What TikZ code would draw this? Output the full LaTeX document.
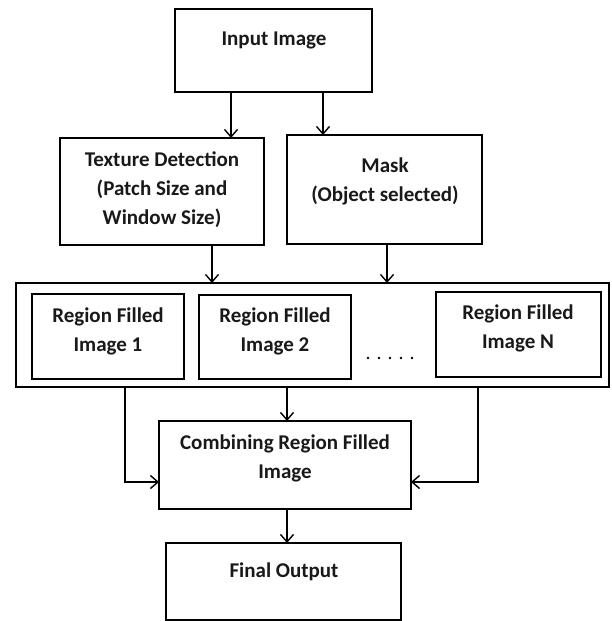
\documentclass[tikz,border=0pt]{standalone}
\usepackage{fontspec}
\setmainfont{Carlito}
\usetikzlibrary{arrows.meta}
\begin{document}
\begin{tikzpicture}[x=1pt,y=-1pt,
  box/.style={draw=black,line width=1.8pt,rectangle,anchor=north west,inner sep=0pt,outer sep=0pt},
  txt/.style={font=\fontsize{21}{29}\selectfont\bfseries,align=center,inner sep=0pt,text=black!90},
  arr/.style={draw=black,line width=1.4pt,-{Straight Barb[length=7.5pt,width=13pt,line width=1.4pt]}}]
\useasboundingbox (0,0) rectangle (612,621);
% boxes
\node[box,minimum width=197pt,minimum height=83pt] (in) at (175,9) {};
\node[box,minimum width=204pt,minimum height=107pt] (tex) at (60,138) {};
\node[box,minimum width=195pt,minimum height=109pt] (mask) at (287,135) {};
\node[box,minimum width=593pt,minimum height=104pt] (big) at (16,283) {};
\node[box,minimum width=152pt,minimum height=85pt] (r1) at (32,294) {};
\node[box,minimum width=152pt,minimum height=84pt] (r2) at (199,295) {};
\node[box,minimum width=165pt,minimum height=85pt] (rn) at (436,292) {};
\node[box,minimum width=252pt,minimum height=88pt] (comb) at (159,421) {};
\node[box,minimum width=235pt,minimum height=77pt] (fin) at (166,543) {};
% texts
\node[txt] (tin) at (274,40) {Input Image};
\node[txt] (ttex) at (162,190) {Texture Detection\\(Patch Size and\\Window Size)};
\node[txt] (tmask) at (385,181) {Mask\\(Object selected)};
\node[txt] (tr1) at (108,331) {Region Filled\\Image 1};
\node[txt] (tr2) at (275,331) {Region Filled\\Image 2};
\node[txt] (trn) at (518,328) {Region Filled\\Image N};
\node[txt] (tcomb) at (285,458) {Combining Region Filled\\Image};
\node[txt] (tfin) at (284,572) {Final Output};
% dots
\foreach \i in {0,...,4} \fill (368+11*\i,358) circle (1.3pt);
% arrow x positions
\coordinate (c1) at (231,0);
\coordinate (c2) at (323,0);
\coordinate (c3) at (212,0);
\coordinate (c4) at (387,0);
\coordinate (c5) at (287,0);
\coordinate (c6) at (125,482);
\coordinate (c7) at (478,482);
% connectors
\draw[arr] (in.south -| c1) -- (tex.north -| c1);
\draw[arr] (in.south -| c2) -- (mask.north -| c2);
\draw[arr] (tex.south -| c3) -- (big.north -| c3);
\draw[arr] (mask.south -| c4) -- (big.north -| c4);
\draw[arr] (big.south -| c5) -- (comb.north -| c5);
\draw[arr] (big.south -| c6) -- (c6) -- (comb.west |- c6);
\draw[arr] (big.south -| c7) -- (c7) -- (comb.east |- c7);
\draw[arr] (comb.south -| c5) -- (fin.north -| c5);
\end{tikzpicture}
\end{document}
